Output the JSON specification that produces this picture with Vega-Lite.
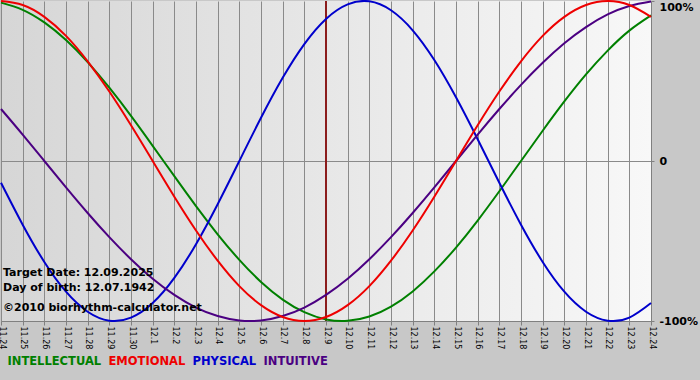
{
  "$schema": "https://vega.github.io/schema/vega-lite/v6.json",
  "width": 650,
  "height": 320,
  "autosize": {"type": "none"},
  "padding": {"top": 1, "left": 1, "right": 49, "bottom": 59},
  "background": "#c8c8c8",
  "config": {
    "font": "DejaVu Sans",
    "view": {
      "stroke": null,
      "fill": {"gradient": "linear", "x1": 0, "y1": 0, "x2": 1, "y2": 0,
        "stops": [{"offset": 0, "color": "#d6d6d6"}, {"offset": 1, "color": "#f8f8f8"}]}
    },
    "axisX": {
      "values": [0,1,2,3,4,5,6,7,8,9,10,11,12,13,14,15,16,17,18,19,20,21,22,23,24,25,26,27,28,29,30],
      "tickCount": 31,
      "title": null,
      "labelExpr": "datum.value < 7 ? '11.' + (24 + datum.value) : '12.' + (datum.value - 6)",
      "labelAngle": 90,
      "labelFontSize": 8,
      "labelColor": "#000000",
      "labelPadding": 1,
      "labelFlush": false,
      "labelBound": false,
      "labelOverlap": false,
      "tickSize": 4,
      "tickColor": "#808080",
      "domainColor": "#808080",
      "grid": true,
      "gridColor": "#8a8a8a",
      "gridOpacity": 1
    }
  },
  "datasets": {
    "bio": [
      {"day":0,"cycle":"INTELLECTUAL","value":99.0},{"day":1,"cycle":"INTELLECTUAL","value":94.5},{"day":2,"cycle":"INTELLECTUAL","value":86.6},{"day":3,"cycle":"INTELLECTUAL","value":75.6},{"day":4,"cycle":"INTELLECTUAL","value":61.8},{"day":5,"cycle":"INTELLECTUAL","value":45.8},{"day":6,"cycle":"INTELLECTUAL","value":28.2},{"day":7,"cycle":"INTELLECTUAL","value":9.5},{"day":8,"cycle":"INTELLECTUAL","value":-9.5},{"day":9,"cycle":"INTELLECTUAL","value":-28.2},{"day":10,"cycle":"INTELLECTUAL","value":-45.8},{"day":11,"cycle":"INTELLECTUAL","value":-61.8},{"day":12,"cycle":"INTELLECTUAL","value":-75.6},{"day":13,"cycle":"INTELLECTUAL","value":-86.6},{"day":14,"cycle":"INTELLECTUAL","value":-94.5},{"day":15,"cycle":"INTELLECTUAL","value":-99.0},{"day":16,"cycle":"INTELLECTUAL","value":-99.9},{"day":17,"cycle":"INTELLECTUAL","value":-97.2},{"day":18,"cycle":"INTELLECTUAL","value":-91.0},{"day":19,"cycle":"INTELLECTUAL","value":-81.5},{"day":20,"cycle":"INTELLECTUAL","value":-69.0},{"day":21,"cycle":"INTELLECTUAL","value":-54.1},{"day":22,"cycle":"INTELLECTUAL","value":-37.2},{"day":23,"cycle":"INTELLECTUAL","value":-18.9},{"day":24,"cycle":"INTELLECTUAL","value":0},{"day":25,"cycle":"INTELLECTUAL","value":18.9},{"day":26,"cycle":"INTELLECTUAL","value":37.2},{"day":27,"cycle":"INTELLECTUAL","value":54.1},{"day":28,"cycle":"INTELLECTUAL","value":69.0},{"day":29,"cycle":"INTELLECTUAL","value":81.5},{"day":30,"cycle":"INTELLECTUAL","value":91.0},
      {"day":0,"cycle":"PHYSICAL","value":-13.6},{"day":1,"cycle":"PHYSICAL","value":-39.8},{"day":2,"cycle":"PHYSICAL","value":-63.1},{"day":3,"cycle":"PHYSICAL","value":-81.7},{"day":4,"cycle":"PHYSICAL","value":-94.2},{"day":5,"cycle":"PHYSICAL","value":-99.8},{"day":6,"cycle":"PHYSICAL","value":-97.9},{"day":7,"cycle":"PHYSICAL","value":-88.8},{"day":8,"cycle":"PHYSICAL","value":-73.1},{"day":9,"cycle":"PHYSICAL","value":-52.0},{"day":10,"cycle":"PHYSICAL","value":-27.0},{"day":11,"cycle":"PHYSICAL","value":0},{"day":12,"cycle":"PHYSICAL","value":27.0},{"day":13,"cycle":"PHYSICAL","value":52.0},{"day":14,"cycle":"PHYSICAL","value":73.1},{"day":15,"cycle":"PHYSICAL","value":88.8},{"day":16,"cycle":"PHYSICAL","value":97.9},{"day":17,"cycle":"PHYSICAL","value":99.8},{"day":18,"cycle":"PHYSICAL","value":94.2},{"day":19,"cycle":"PHYSICAL","value":81.7},{"day":20,"cycle":"PHYSICAL","value":63.1},{"day":21,"cycle":"PHYSICAL","value":39.8},{"day":22,"cycle":"PHYSICAL","value":13.6},{"day":23,"cycle":"PHYSICAL","value":-13.6},{"day":24,"cycle":"PHYSICAL","value":-39.8},{"day":25,"cycle":"PHYSICAL","value":-63.1},{"day":26,"cycle":"PHYSICAL","value":-81.7},{"day":27,"cycle":"PHYSICAL","value":-94.2},{"day":28,"cycle":"PHYSICAL","value":-99.8},{"day":29,"cycle":"PHYSICAL","value":-97.9},{"day":30,"cycle":"PHYSICAL","value":-88.8},
      {"day":0,"cycle":"INTUITIVE","value":32.5},{"day":1,"cycle":"INTUITIVE","value":16.5},{"day":2,"cycle":"INTUITIVE","value":0},{"day":3,"cycle":"INTUITIVE","value":-16.5},{"day":4,"cycle":"INTUITIVE","value":-32.5},{"day":5,"cycle":"INTUITIVE","value":-47.6},{"day":6,"cycle":"INTUITIVE","value":-61.4},{"day":7,"cycle":"INTUITIVE","value":-73.6},{"day":8,"cycle":"INTUITIVE","value":-83.7},{"day":9,"cycle":"INTUITIVE","value":-91.6},{"day":10,"cycle":"INTUITIVE","value":-96.9},{"day":11,"cycle":"INTUITIVE","value":-99.7},{"day":12,"cycle":"INTUITIVE","value":-99.7},{"day":13,"cycle":"INTUITIVE","value":-96.9},{"day":14,"cycle":"INTUITIVE","value":-91.6},{"day":15,"cycle":"INTUITIVE","value":-83.7},{"day":16,"cycle":"INTUITIVE","value":-73.6},{"day":17,"cycle":"INTUITIVE","value":-61.4},{"day":18,"cycle":"INTUITIVE","value":-47.6},{"day":19,"cycle":"INTUITIVE","value":-32.5},{"day":20,"cycle":"INTUITIVE","value":-16.5},{"day":21,"cycle":"INTUITIVE","value":0},{"day":22,"cycle":"INTUITIVE","value":16.5},{"day":23,"cycle":"INTUITIVE","value":32.5},{"day":24,"cycle":"INTUITIVE","value":47.6},{"day":25,"cycle":"INTUITIVE","value":61.4},{"day":26,"cycle":"INTUITIVE","value":73.6},{"day":27,"cycle":"INTUITIVE","value":83.7},{"day":28,"cycle":"INTUITIVE","value":91.6},{"day":29,"cycle":"INTUITIVE","value":96.9},{"day":30,"cycle":"INTUITIVE","value":99.7},
      {"day":0,"cycle":"EMOTIONAL","value":100},{"day":1,"cycle":"EMOTIONAL","value":97.5},{"day":2,"cycle":"EMOTIONAL","value":90.1},{"day":3,"cycle":"EMOTIONAL","value":78.2},{"day":4,"cycle":"EMOTIONAL","value":62.3},{"day":5,"cycle":"EMOTIONAL","value":43.4},{"day":6,"cycle":"EMOTIONAL","value":22.3},{"day":7,"cycle":"EMOTIONAL","value":0},{"day":8,"cycle":"EMOTIONAL","value":-22.3},{"day":9,"cycle":"EMOTIONAL","value":-43.4},{"day":10,"cycle":"EMOTIONAL","value":-62.3},{"day":11,"cycle":"EMOTIONAL","value":-78.2},{"day":12,"cycle":"EMOTIONAL","value":-90.1},{"day":13,"cycle":"EMOTIONAL","value":-97.5},{"day":14,"cycle":"EMOTIONAL","value":-100},{"day":15,"cycle":"EMOTIONAL","value":-97.5},{"day":16,"cycle":"EMOTIONAL","value":-90.1},{"day":17,"cycle":"EMOTIONAL","value":-78.2},{"day":18,"cycle":"EMOTIONAL","value":-62.3},{"day":19,"cycle":"EMOTIONAL","value":-43.4},{"day":20,"cycle":"EMOTIONAL","value":-22.3},{"day":21,"cycle":"EMOTIONAL","value":0},{"day":22,"cycle":"EMOTIONAL","value":22.3},{"day":23,"cycle":"EMOTIONAL","value":43.4},{"day":24,"cycle":"EMOTIONAL","value":62.3},{"day":25,"cycle":"EMOTIONAL","value":78.2},{"day":26,"cycle":"EMOTIONAL","value":90.1},{"day":27,"cycle":"EMOTIONAL","value":97.5},{"day":28,"cycle":"EMOTIONAL","value":100},{"day":29,"cycle":"EMOTIONAL","value":97.5},{"day":30,"cycle":"EMOTIONAL","value":90.1}
    ],
    "marker": [
      {"day": 15, "label": "Target Date: 12.09.2025", "line2": "Day of birth: 12.07.1942", "credit": "©2010 biorhythm-calculator.net"}
    ]
  },
  "layer": [
    {
      "data": {"name": "marker"},
      "mark": {"type": "rule", "color": "#8b1c1c", "strokeWidth": 2},
      "encoding": {
        "x": {"field": "day", "type": "quantitative", "scale": {"domain": [0, 30], "nice": false, "zero": false}}
      }
    },
    {
      "data": {"name": "bio"},
      "mark": {"type": "line", "strokeWidth": 2, "interpolate": "natural"},
      "encoding": {
        "x": {
          "field": "day", "type": "quantitative",
          "scale": {"domain": [0, 30], "nice": false, "zero": false}
        },
        "y": {
          "field": "value", "type": "quantitative",
          "scale": {"domain": [-100, 100], "nice": false},
          "axis": {
            "orient": "right",
            "values": [-100, 0, 100],
            "title": null,
            "labelExpr": "datum.value === 0 ? '0' : datum.value + '%'",
            "labelFontSize": 11,
            "labelFontWeight": "bold",
            "labelColor": "#000000",
            "labelPadding": 5,
            "labelFlush": false,
            "labelBound": false,
            "labelOverlap": false,
            "labelBaseline": {"condition": {"test": "datum.value === 100", "value": "top"}, "value": "middle"},
            "tickSize": 3,
            "tickColor": "#808080",
            "domainColor": "#808080",
            "grid": true,
            "gridColor": "#8a8a8a",
            "gridOpacity": {"condition": {"test": "datum.value === 100", "value": 0}, "value": 1}
          }
        },
        "color": {
          "field": "cycle", "type": "nominal",
          "scale": {"domain": ["INTELLECTUAL", "EMOTIONAL", "PHYSICAL", "INTUITIVE"], "range": ["#008000", "#ee0000", "#0000cc", "#4b0082"]},
          "legend": {
            "orient": "none", "legendX": 6, "legendY": 355, "direction": "horizontal",
            "title": null, "padding": 0,
            "symbolSize": 0, "symbolStrokeWidth": 0, "symbolOpacity": 0, "labelOffset": -11,
            "labelFontSize": 11.5, "labelFontWeight": "bold", "columnPadding": 6,
            "labelColor": {"expr": "datum.value === 'INTELLECTUAL' ? '#008000' : datum.value === 'EMOTIONAL' ? '#ee0000' : datum.value === 'PHYSICAL' ? '#0000cc' : '#4b0082'"}
          }
        }
      }
    },
    {
      "data": {"name": "marker"},
      "mark": {"type": "text", "align": "left", "baseline": "alphabetic", "fontSize": 11, "fontWeight": "bold", "color": "#000000", "dx": 2},
      "encoding": {"x": {"datum": 0, "type": "quantitative"}, "y": {"datum": -71.9, "type": "quantitative"}, "text": {"field": "label"}}
    },
    {
      "data": {"name": "marker"},
      "mark": {"type": "text", "align": "left", "baseline": "alphabetic", "fontSize": 11, "fontWeight": "bold", "color": "#000000", "dx": 2},
      "encoding": {"x": {"datum": 0, "type": "quantitative"}, "y": {"datum": -81.1, "type": "quantitative"}, "text": {"field": "line2"}}
    },
    {
      "data": {"name": "marker"},
      "mark": {"type": "text", "align": "left", "baseline": "alphabetic", "fontSize": 11, "fontWeight": "bold", "color": "#000000", "dx": 2},
      "encoding": {"x": {"datum": 0, "type": "quantitative"}, "y": {"datum": -93.6, "type": "quantitative"}, "text": {"field": "credit"}}
    }
  ]
}
